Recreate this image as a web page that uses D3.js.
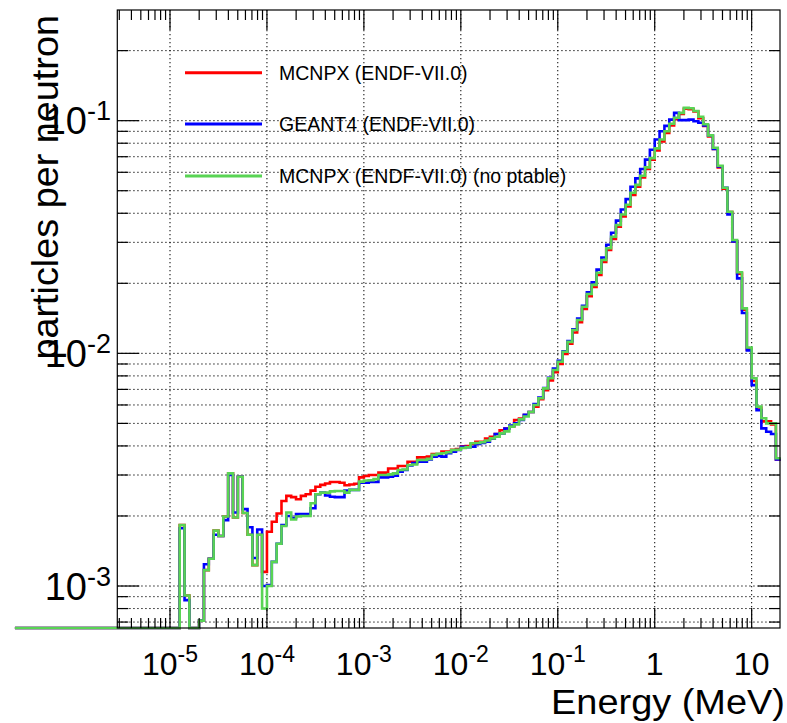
<!DOCTYPE html>
<html><head><meta charset="utf-8">
<script src="https://cdn.jsdelivr.net/npm/d3@7/dist/d3.min.js"></script>
<style>
body{margin:0;background:#fff}
svg{display:block}
text{font-family:"Liberation Sans",Arial,Helvetica,sans-serif;fill:#000}
</style>
</head><body>
<svg id="chart" width="787" height="723"></svg>
<script>
// ---- binning (log-uniform, 20 bins per decade starting at 2.5e-7 MeV) ----
const binEdgeFirstLog = -6.6;
const binsPerDecade = 20;

// ---- series (particles per neutron, per bin) ----
const seriesNames = ["MCNPX (ENDF-VII.0)", "GEANT4 (ENDF-VII.0)", "MCNPX (ENDF-VII.0) (no ptable)"];
const seriesColors = ["#ff0000", "#0000ff", "#59d454"];

const mcnpx = [
  0,0,0,0,0,0,0,0,0,0,0,0,0,0,0,0,0,0,0,0,0,0,0,0,0,0,0,0,0,0,0,0,0,0,
  1.83e-3,9.1e-4,0,0,7.1e-4,1.17e-3,1.31e-3,1.73e-3,1.64e-3,1.99e-3,3.05e-3,1.97e-3,2.95e-3,2.06e-3,1.66e-3,1.23e-3,1.66e-3,1.15e-3,
  1.71e-3,1.89e-3,2.05e-3,2.32e-3,2.44e-3,2.41e-3,2.36e-3,2.44e-3,2.48e-3,2.57e-3,2.67e-3,2.72e-3,2.76e-3,2.80e-3,2.80e-3,2.78e-3,2.71e-3,2.73e-3,2.75e-3,2.93e-3,
  2.97e-3,3.0e-3,3.0e-3,3.07e-3,3.07e-3,3.2e-3,3.2e-3,3.28e-3,3.28e-3,3.42e-3,3.42e-3,3.57e-3,3.57e-3,3.6e-3,3.69e-3,3.69e-3,3.78e-3,3.78e-3,3.85e-3,3.88e-3,
  3.99e-3,4.0e-3,4.08e-3,4.17e-3,4.17e-3,4.3e-3,4.38e-3,4.5e-3,4.67e-3,4.75e-3,4.84e-3,5.17e-3,5.25e-3,5.43e-3,5.6e-3,5.9e-3,6.35e-3,6.95e-3,7.65e-3,8.3e-3,9.0e-3,
  9.95e-3,1.1e-2,1.23e-2,1.36e-2,1.55e-2,1.76e-2,1.93e-2,2.17e-2,2.47e-2,2.78e-2,3.1e-2,3.5e-2,3.88e-2,4.28e-2,4.8e-2,5.2e-2,5.7e-2,6.2e-2,6.8e-2,7.45e-2,
  8.15e-2,8.85e-2,9.55e-2,0.1015,0.107,0.1125,0.112,0.1095,0.1025,0.095,0.0855,0.0755,0.063,0.051,0.0405,0.0303,0.022,0.0154,0.0104,7.6e-3,
  5.85e-3,5.1e-3,5.1e-3,4.95e-3,3.5e-3
];

const geant4 = [
  0,0,0,0,0,0,0,0,0,0,0,0,0,0,0,0,0,0,0,0,0,0,0,0,0,0,0,0,0,0,0,0,0,0,
  1.77e-3,8.7e-4,0,0,7.1e-4,1.24e-3,1.31e-3,1.66e-3,1.64e-3,1.92e-3,3.0e-3,2.07e-3,2.95e-3,2.14e-3,1.79e-3,1.32e-3,1.75e-3,1.0e-3,
  1.01e-3,1.27e-3,1.52e-3,1.83e-3,2.0e-3,1.96e-3,2.04e-3,2.04e-3,2.04e-3,2.16e-3,2.48e-3,2.52e-3,2.45e-3,2.42e-3,2.41e-3,2.41e-3,2.57e-3,2.59e-3,2.59e-3,2.78e-3,
  2.78e-3,2.8e-3,2.8e-3,2.93e-3,2.93e-3,2.95e-3,2.98e-3,3.1e-3,3.15e-3,3.3e-3,3.38e-3,3.42e-3,3.42e-3,3.5e-3,3.6e-3,3.62e-3,3.6e-3,3.72e-3,3.78e-3,3.84e-3,
  3.97e-3,3.95e-3,3.97e-3,4.08e-3,4.12e-3,4.17e-3,4.3e-3,4.5e-3,4.53e-3,4.75e-3,4.9e-3,5.0e-3,5.17e-3,5.45e-3,5.6e-3,6.05e-3,6.45e-3,7.1e-3,7.85e-3,8.6e-3,9.3e-3,
  1.02e-2,1.13e-2,1.27e-2,1.41e-2,1.6e-2,1.83e-2,2.02e-2,2.29e-2,2.58e-2,2.93e-2,3.3e-2,3.72e-2,4.15e-2,4.6e-2,5.2e-2,5.65e-2,6.2e-2,6.8e-2,7.5e-2,8.3e-2,
  9.0e-2,9.5e-2,0.101,0.108,0.1005,0.1005,0.101,0.0995,0.098,0.0955,0.0865,0.0755,0.0635,0.0515,0.0395,0.0303,0.021,0.0149,0.0103,7.3e-3,
  5.7e-3,4.76e-3,4.6e-3,4.5e-3,3.5e-3
];

const mcnpxNoPtable = [
  0,0,0,0,0,0,0,0,0,0,0,0,0,0,0,0,0,0,0,0,0,0,0,0,0,0,0,0,0,0,0,0,0,0,
  1.83e-3,9.1e-4,0,0,7.1e-4,1.17e-3,1.31e-3,1.73e-3,1.64e-3,1.99e-3,3.05e-3,1.97e-3,2.95e-3,2.06e-3,1.66e-3,1.23e-3,1.66e-3,8.0e-4,
  1.0e-3,1.27e-3,1.52e-3,1.81e-3,2.07e-3,1.93e-3,1.99e-3,2.0e-3,2.0e-3,2.27e-3,2.48e-3,2.52e-3,2.52e-3,2.55e-3,2.56e-3,2.56e-3,2.52e-3,2.59e-3,2.59e-3,2.81e-3,
  2.84e-3,2.85e-3,2.88e-3,3.0e-3,3.0e-3,3.02e-3,3.05e-3,3.15e-3,3.17e-3,3.31e-3,3.33e-3,3.48e-3,3.48e-3,3.52e-3,3.66e-3,3.7e-3,3.72e-3,3.76e-3,3.84e-3,3.85e-3,
  3.92e-3,3.95e-3,4.11e-3,4.12e-3,4.15e-3,4.22e-3,4.31e-3,4.38e-3,4.53e-3,4.62e-3,4.84e-3,4.95e-3,5.2e-3,5.35e-3,5.6e-3,6.0e-3,6.41e-3,7.07e-3,7.81e-3,8.48e-3,9.2e-3,
  1.016e-2,1.12e-2,1.26e-2,1.39e-2,1.585e-2,1.80e-2,1.97e-2,2.22e-2,2.52e-2,2.83e-2,3.17e-2,3.56e-2,3.95e-2,4.35e-2,4.9e-2,5.3e-2,5.8e-2,6.3e-2,6.9e-2,7.6e-2,
  8.3e-2,9.0e-2,9.7e-2,0.103,0.108,0.1135,0.113,0.110,0.104,0.0965,0.0865,0.0765,0.064,0.0515,0.0406,0.0307,0.0223,0.0156,0.0106,7.81e-3,
  5.9e-3,5.26e-3,5.0e-3,5.0e-3,3.54e-3
];

// ---- axes ----
const xDomain = [2.86e-6, 19.6];
const yDomain = [6.6e-4, 0.299];
const xMajorTicks = [1e-5, 1e-4, 1e-3, 1e-2, 1e-1, 1, 10];
const xTickLabels = [["10","-5"],["10","-4"],["10","-3"],["10","-2"],["10","-1"],["1",""],["10",""]];
const yMajorTicks = [1e-3, 1e-2, 1e-1];
const yTickLabels = [["10","-3"],["10","-2"],["10","-1"]];
const xTitle = "Energy (MeV)";
const yTitle = "particles per neutron";

// ---- layout ----
const L = 117.3, R = 780, T = 10, B = 628;
const svg = d3.select("#chart");
const x = d3.scaleLog().domain(xDomain).range([L, R]);
const y = d3.scaleLog().domain(yDomain).range([B, T]);

function subTicks(domain) {
  const out = [];
  const lo = Math.floor(Math.log10(domain[0])), hi = Math.ceil(Math.log10(domain[1]));
  for (let d = lo; d <= hi; d++) for (let m = 1; m <= 9; m++) {
    const v = m * Math.pow(10, d);
    if (v >= domain[0] * 1.0001 && v <= domain[1] * 0.9999) out.push({v, major: m === 1});
  }
  return out;
}
const xTicksAll = subTicks(xDomain);
const yTicksAll = subTicks(yDomain);

// grid
const grid = svg.append("g").attr("stroke", "#000").attr("stroke-width", 1).attr("stroke-dasharray", "1.3,2.7");
grid.selectAll("line.gx").data(xMajorTicks).join("line")
  .attr("x1", d => x(d)).attr("x2", d => x(d)).attr("y1", T).attr("y2", B);
grid.selectAll("line.gy").data(yTicksAll).join("line")
  .attr("x1", L).attr("x2", R).attr("y1", d => y(d.v)).attr("y2", d => y(d.v));

// histograms
const edges = d3.range(mcnpx.length + 1).map(i => Math.pow(10, binEdgeFirstLog + i / binsPerDecade));
function yv(v) { return y(Math.max(v, yDomain[0])); }
function histPath(vals) {
  let p = `M${x(edges[0])},${yv(vals[0])}`;
  for (let i = 0; i < vals.length; i++) {
    if (i > 0) p += `V${yv(vals[i])}`;
    p += `H${x(edges[i + 1])}`;
  }
  return p;
}
const allSeries = [mcnpx, geant4, mcnpxNoPtable];
svg.append("g").selectAll("path").data(allSeries).join("path")
  .attr("d", d => histPath(d))
  .attr("fill", "none")
  .attr("stroke", (d, i) => seriesColors[i])
  .attr("stroke-width", 2.6)
  .attr("stroke-linejoin", "miter");

// frame
svg.append("rect").attr("x", L).attr("y", T).attr("width", R - L).attr("height", B - T)
  .attr("fill", "none").attr("stroke", "#000").attr("stroke-width", 1.2);

// ticks
const tk = svg.append("g").attr("stroke", "#000").attr("stroke-width", 1.2);
xTicksAll.forEach(t => {
  const len = t.major ? 20 : 10;
  tk.append("line").attr("x1", x(t.v)).attr("x2", x(t.v)).attr("y1", B).attr("y2", B - len);
  tk.append("line").attr("x1", x(t.v)).attr("x2", x(t.v)).attr("y1", T).attr("y2", T + len);
});
yTicksAll.forEach(t => {
  const len = t.major ? 22 : 11;
  tk.append("line").attr("y1", y(t.v)).attr("y2", y(t.v)).attr("x1", L).attr("x2", L + len);
  tk.append("line").attr("y1", y(t.v)).attr("y2", y(t.v)).attr("x1", R).attr("x2", R - len);
});

// tick labels
function powLabel(g, base, exp, fs, sfs, rise) {
  const t = g.append("text").attr("font-size", fs);
  t.append("tspan").text(base);
  if (exp) t.append("tspan").attr("font-size", sfs).attr("dy", -rise).text(exp);
  return t;
}
xMajorTicks.forEach((v, i) => {
  const t = powLabel(svg, xTickLabels[i][0], xTickLabels[i][1], 32, 23, 13);
  t.attr("y", 675).attr("x", x(v)).attr("text-anchor", "middle");
});
yMajorTicks.forEach((v, i) => {
  const t = powLabel(svg, yTickLabels[i][0], yTickLabels[i][1], 38, 27, 14);
  t.attr("y", y(v) + 13.5).attr("x", 111).attr("text-anchor", "end");
});

// axis titles
svg.append("text").attr("x", 785).attr("y", 714).attr("text-anchor", "end")
  .attr("font-size", 35).attr("textLength", 234).attr("lengthAdjust", "spacingAndGlyphs").text(xTitle);
svg.append("text").attr("transform", "translate(58,15) rotate(-90)").attr("text-anchor", "end")
  .attr("font-size", 37.8).text(yTitle);

// legend
const legY = [72.7, 124, 176];
const leg = svg.append("g");
seriesNames.forEach((n, i) => {
  leg.append("line").attr("x1", 185).attr("x2", 262).attr("y1", legY[i]).attr("y2", legY[i])
    .attr("stroke", seriesColors[i]).attr("stroke-width", 3);
  leg.append("text").attr("x", 279).attr("y", legY[i] + 7).attr("font-size", 19.5).text(n);
});
</script>
</body></html>
